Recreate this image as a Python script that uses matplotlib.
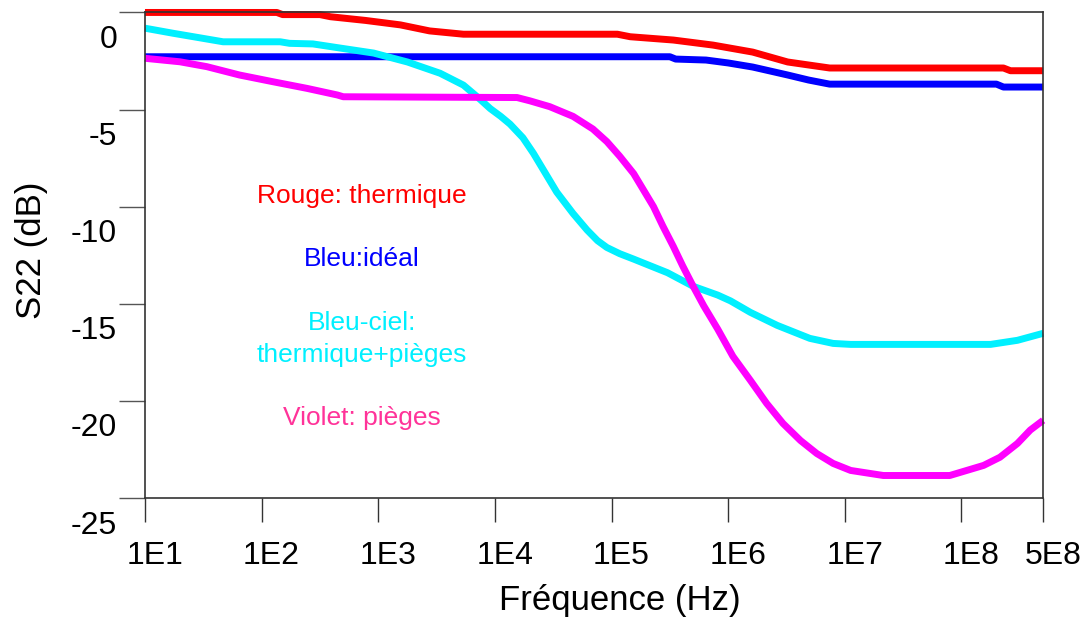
import numpy as np
import matplotlib
matplotlib.use("Agg")
import matplotlib.pyplot as plt
from matplotlib.transforms import ScaledTranslation

plt.rcParams['font.family'] = ['Liberation Sans', 'DejaVu Sans']

# frequencies given as log10(f), S22 in dB
red_logf = [1.0, 2.13, 2.18, 2.50, 2.59, 2.89, 3.19, 3.44, 3.73, 5.05, 5.16, 5.53,
            5.87, 6.21, 6.51, 6.87, 8.36, 8.42, 8.70]
red_db = [0.0, 0.0, -0.11, -0.11, -0.22, -0.41, -0.64, -0.95, -1.12, -1.12, -1.25, -1.42,
          -1.68, -2.04, -2.55, -2.86, -2.86, -3.0, -3.0]

blue_logf = [1.0, 5.50, 5.55, 5.81, 6.0, 6.21, 6.51, 6.69, 6.87, 8.30, 8.36, 8.70]
blue_db = [-2.28, -2.28, -2.40, -2.45, -2.60, -2.81, -3.22, -3.48, -3.69, -3.69, -3.84, -3.84]

cyan_logf = [1.0, 1.24, 1.67, 2.16, 2.24, 2.44, 2.67, 2.96, 3.25, 3.53, 3.73, 3.85,
             3.96, 4.05, 4.13, 4.24, 4.33, 4.45, 4.53, 4.67, 4.79, 4.88, 4.96, 5.07,
             5.19, 5.48, 5.70, 5.91, 6.02, 6.19, 6.42, 6.70, 6.90, 7.05, 8.25, 8.48,
             8.70]
cyan_db = [-0.81, -1.07, -1.51, -1.51, -1.59, -1.62, -1.83, -2.09, -2.55, -3.13, -3.74, -4.35,
           -4.95, -5.35, -5.75, -6.45, -7.25, -8.45, -9.25, -10.35, -11.20, -11.75, -12.10, -12.42,
           -12.70, -13.40, -14.10, -14.55, -14.85, -15.44, -16.11, -16.78, -17.04, -17.09, -17.09, -16.88,
           -16.52]

mag_logf = [1.0, 1.30, 1.53, 1.81, 2.10, 2.39, 2.65, 2.70, 4.19, 4.30, 4.47, 4.67,
            4.84, 4.96, 5.07, 5.19, 5.27, 5.36, 5.44, 5.53, 5.61, 5.70, 5.79, 5.91,
            6.04, 6.19, 6.33, 6.47, 6.62, 6.76, 6.90, 7.05, 7.33, 7.90, 8.19, 8.33,
            8.48, 8.59, 8.70]
mag_db = [-2.36, -2.54, -2.79, -3.22, -3.57, -3.91, -4.25, -4.34, -4.38, -4.55, -4.85, -5.35,
          -6.00, -6.65, -7.40, -8.30, -9.10, -10.00, -11.00, -12.05, -13.05, -14.10, -15.10, -16.30,
          -17.70, -18.94, -20.13, -21.16, -22.04, -22.71, -23.22, -23.58, -23.84, -23.84, -23.32, -22.90,
          -22.19, -21.50, -21.0]

xticks = [1e1, 1e2, 1e3, 1e4, 1e5, 1e6, 1e7, 1e8, 5e8]
xticklabels = ['1E1', '1E2', '1E3', '1E4', '1E5', '1E6', '1E7', '1E8', '5E8']
yticks = [0, -5, -10, -15, -20, -25]

fig = plt.figure(figsize=(10.86, 6.23), dpi=100)
ax = fig.add_axes([0.1335, 0.2006, 0.8269, 0.7794])

lw = 5
for logf, db, col in [(red_logf, red_db, '#ff0000'),
                      (blue_logf, blue_db, '#0000ff'),
                      (cyan_logf, cyan_db, '#00f0ff'),
                      (mag_logf, mag_db, '#ff00ff')]:
    ax.plot(10 ** np.array(logf), db, color=col, lw=lw, solid_capstyle='butt',
            solid_joinstyle='round', clip_on=False)

ax.set_xscale('log')
ax.set_xlim(1e1, 5e8)
ax.set_ylim(-25, 0)
ax.set_xticks(xticks)
ax.set_xticklabels(xticklabels)
ax.minorticks_off()
ax.set_yticks(yticks)
ax.set_yticklabels([str(v) for v in yticks])

ax.tick_params(axis='x', length=17, width=1, pad=14, labelsize=23, color='#333333')
ax.tick_params(axis='y', length=19, width=1, pad=1, labelsize=23, color='#555555')
for sp in ax.spines.values():
    sp.set_color('#333333')
    sp.set_linewidth(1.2)

# tick labels sit offset from their ticks in the original
for lab in ax.get_yticklabels():
    lab.set_transform(lab.get_transform() + ScaledTranslation(0, -0.24, fig.dpi_scale_trans))
for lab in ax.get_xticklabels():
    lab.set_transform(lab.get_transform() + ScaledTranslation(0.10, 0, fig.dpi_scale_trans))

ax.set_xlabel('Fréquence (Hz)', fontsize=25, va='center')
ax.xaxis.set_label_coords(0.529, -0.212)
ax.set_ylabel('S22 (dB)', fontsize=25, va='center')
ax.yaxis.set_label_coords(-0.126, 0.511)

tx = 10 ** 2.86
fs = 19
ax.text(tx, -9.45, 'Rouge: thermique', color='#ff0000', fontsize=fs, ha='center', va='center')
ax.text(tx, -12.7, 'Bleu:idéal', color='#0000ff', fontsize=fs, ha='center', va='center')
ax.text(tx, -16.0, 'Bleu-ciel:', color='#00f0ff', fontsize=fs, ha='center', va='center')
ax.text(tx, -17.65, 'thermique+pièges', color='#00f0ff', fontsize=fs, ha='center', va='center')
ax.text(tx, -20.9, 'Violet: pièges', color='#ff3399', fontsize=fs, ha='center', va='center')

fig.savefig('out.png', dpi=100)
